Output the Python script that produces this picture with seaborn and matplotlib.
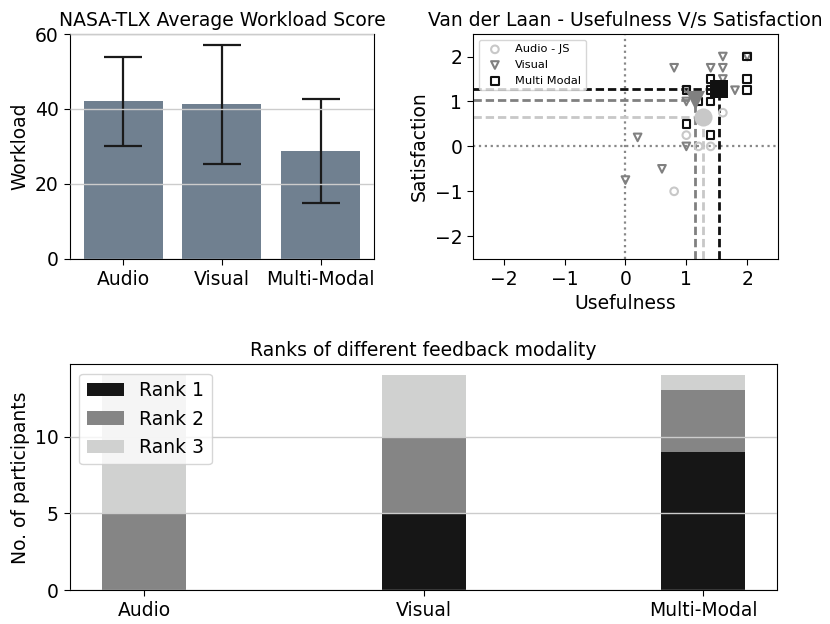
import numpy as np
import pandas as pd
import matplotlib
matplotlib.use("Agg")
import matplotlib.pyplot as plt
import seaborn as sns

# --- NASA-TLX workload ---
modalities = ["Audio", "Visual", "Multi-Modal"]
workload_mean = [42.1, 41.3, 28.8]
workload_err = [11.9, 15.9, 13.9]

# --- Van der Laan usefulness / satisfaction ---
audio_use = [1.6, 1.0, 1.2, 1.4, 0.8]
audio_sat = [0.75, 0.25, 0.0, 0.0, -1.0]
visual_use = [1.6, 0.8, 1.4, 1.6, 1.6, 1.8, 1.0, 0.2, 1.0, 0.6, 0.0, 2.0, 1.0]
visual_sat = [2.0, 1.75, 1.75, 1.75, 1.5, 1.25, 1.0, 0.2, 0.0, -0.5, -0.75, 2.0, 1.25]
multi_use = [2.0, 1.4, 2.0, 2.0, 1.0, 1.4, 1.2, 1.4, 1.0, 1.4]
multi_sat = [2.0, 1.5, 1.5, 1.25, 1.25, 1.25, 1.0, 1.0, 0.5, 0.25]
mean_use = [1.27, 1.145, 1.545]   # audio, visual, multi
mean_sat = [0.66, 1.03, 1.28]

# --- Ranks ---
rank1 = [0, 5, 9]
rank2 = [5, 5, 4]
rank3 = [9, 4, 1]

plt.rcParams["font.size"] = 13.5
plt.rcParams["font.family"] = "DejaVu Sans"

fig = plt.figure(figsize=(8.3, 6.24), dpi=100)
ax1 = fig.add_axes([0.0843, 0.5854, 0.3663, 0.360])
ax2 = fig.add_axes([0.5702, 0.5854, 0.3667, 0.360])
ax3 = fig.add_axes([0.0843, 0.054, 0.8522, 0.3622])

grid_kw = dict(color="#cccccc", linewidth=1.0)

# workload bars
sns.barplot(x=modalities, y=workload_mean, color="#708090", saturation=1,
            width=0.8, errorbar=None, ax=ax1)
ax1.errorbar(x=np.arange(len(modalities)), y=workload_mean, yerr=workload_err,
             fmt="none", ecolor="#1a1a1a", elinewidth=1.6, capsize=13.5, capthick=1.6)
ax1.set_xlim(-0.54, 2.54)
ax1.set_ylim(0, 60)
ax1.set_yticks([0, 20, 40, 60])
ax1.set_ylabel("Workload")
ax1.set_title("NASA-TLX Average Workload Score", fontsize=13.5)
ax1.set_axisbelow(False)
ax1.yaxis.grid(True, **grid_kw)

# usefulness vs satisfaction
c_audio, c_visual, c_multi = "#c8c8c8", "#808080", "#111111"
ax2.axvline(0, color="#888888", linestyle=":", linewidth=1.6, zorder=1)
ax2.axhline(0, color="#888888", linestyle=":", linewidth=1.6, zorder=1)
for mu, ms, c in zip(mean_use, mean_sat, [c_audio, c_visual, c_multi]):
    ax2.plot([-2.5, mu], [ms, ms], color=c, linestyle=(0, (3, 1.4)), linewidth=2, zorder=2)
    ax2.plot([mu, mu], [-2.5, ms], color=c, linestyle=(0, (3, 1.4)), linewidth=2, zorder=2)

groups = [
    (audio_use, audio_sat, "o", c_audio, "Audio - JS"),
    (visual_use, visual_sat, "v", c_visual, "Visual"),
    (multi_use, multi_sat, "s", c_multi, "Multi Modal"),
]
for xs, ys, mk, c, lab in groups:
    sns.scatterplot(x=xs, y=ys, marker=mk, s=30, color=c, linewidth=1.5,
                    label=lab, ax=ax2, zorder=3)
    coll = ax2.collections[-1]
    coll.set_facecolor("none")
    coll.set_edgecolor(c)

for mu, ms, mk, c, sz in zip(mean_use, mean_sat, ["o", "v", "s"],
                             [c_audio, c_visual, c_multi], [170, 190, 150]):
    sns.scatterplot(x=[mu], y=[ms], marker=mk, s=sz, color=c, edgecolor=c,
                    linewidth=0, legend=False, ax=ax2, zorder=4)

ax2.set_xlim(-2.5, 2.5)
ax2.set_ylim(-2.5, 2.5)
ax2.set_xticks([-2, -1, 0, 1, 2])
ax2.set_yticks([-2, -1, 0, 1, 2])
ax2.set_xlabel("Usefulness")
ax2.set_ylabel("Satisfaction")
ax2.set_title("Van der Laan - Usefulness V/s Satisfaction", fontsize=13.5)
ax2.legend(loc="upper left", fontsize=8.2)

# ranks, stacked
tot3 = [a + b + c for a, b, c in zip(rank1, rank2, rank3)]
tot2 = [a + b for a, b in zip(rank1, rank2)]
sns.barplot(x=modalities, y=tot3, color="#d0d1d0", saturation=1, width=0.3,
            errorbar=None, label="Rank 3", ax=ax3)
sns.barplot(x=modalities, y=tot2, color="#858585", saturation=1, width=0.3,
            errorbar=None, label="Rank 2", ax=ax3)
sns.barplot(x=modalities, y=rank1, color="#161616", saturation=1, width=0.3,
            errorbar=None, label="Rank 1", ax=ax3)
ax3.set_xlim(-0.265, 2.265)
ax3.set_ylim(0, 14.7)
ax3.set_yticks([0, 5, 10])
ax3.set_ylabel("No. of participants")
ax3.set_title("Ranks of different feedback modality", fontsize=13.5)
ax3.set_axisbelow(False)
ax3.yaxis.grid(True, **grid_kw)
h, l = ax3.get_legend_handles_labels()
ax3.legend(h[::-1], l[::-1], loc="upper left")

for ax in (ax1, ax2, ax3):
    ax.tick_params(length=4.5)

fig.savefig("out.png", dpi=100)
